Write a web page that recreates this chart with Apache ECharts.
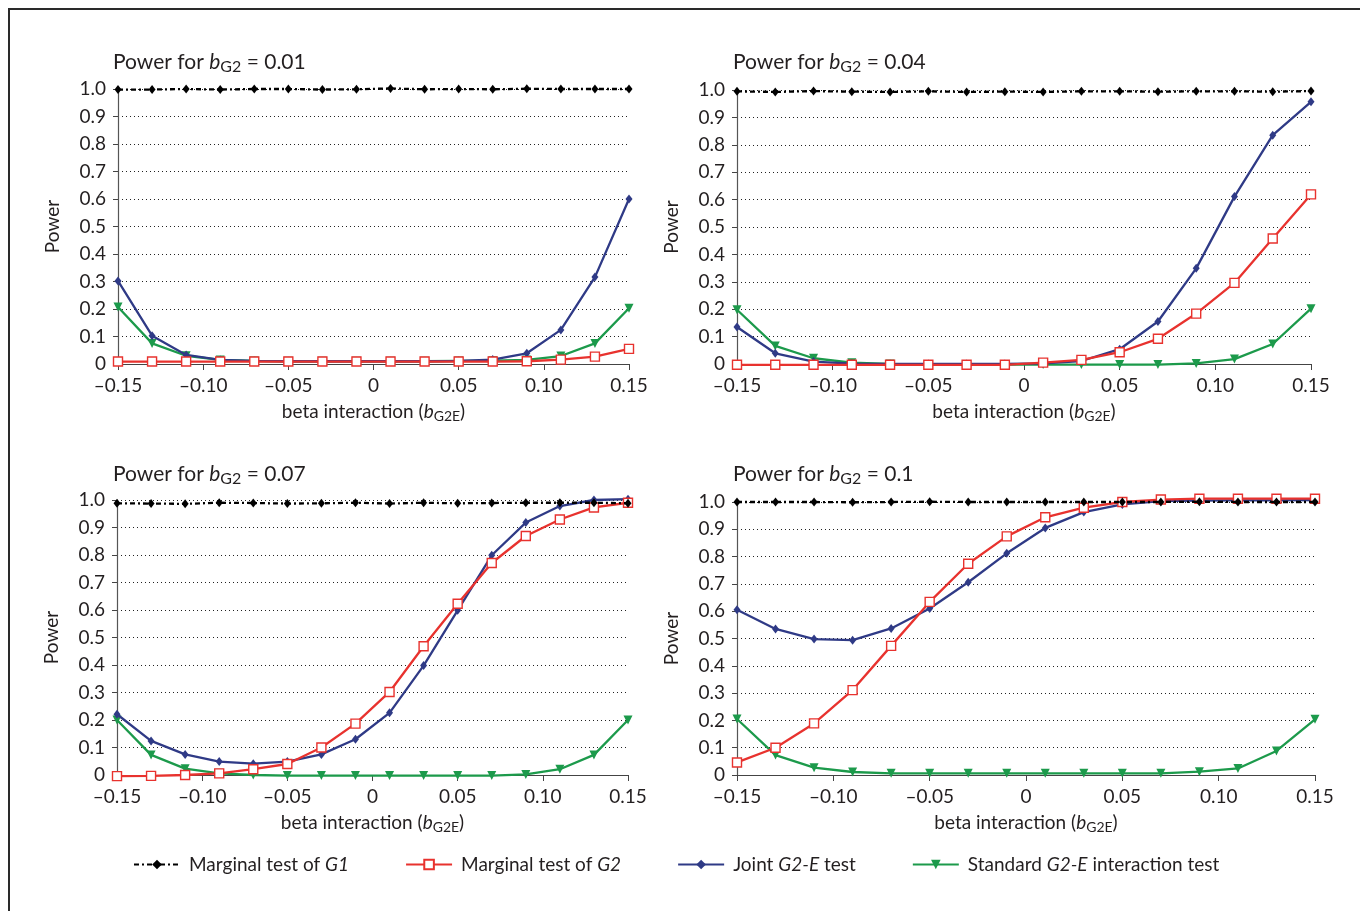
<!DOCTYPE html>
<html>
<head>
<meta charset="utf-8">
<script src="https://cdn.jsdelivr.net/npm/echarts@6/dist/echarts.min.js"></script>
<style>
html,body{margin:0;padding:0;background:#fff;}
#c{width:1360px;height:911px;}
</style>
</head>
<body>
<div id="c"></div>
<script>
// x values (beta interaction b_G2E)
const xs = [-0.15,-0.13,-0.11,-0.09,-0.07,-0.05,-0.03,-0.01,0.01,0.03,0.05,0.07,0.09,0.11,0.13,0.15];
const yTicks = [0,0.1,0.2,0.3,0.4,0.5,0.6,0.7,0.8,0.9,1.0];
const panelTitles = ['0.01','0.04','0.07','0.1'];
const seriesNames = ['Marginal test of G1','Marginal test of G2','Joint G2-E test','Standard G2-E interaction test'];

// Panel 1: b_G2 = 0.01
const g1_p1    = [0.998,0.998,1.0,0.998,1.0,1.0,0.998,0.999,1.002,0.999,1.0,0.999,1.001,1.0,1.0,1.0];
const g2_p1    = [0.009,0.009,0.009,0.009,0.009,0.009,0.009,0.009,0.009,0.009,0.009,0.009,0.010,0.016,0.027,0.055];
const joint_p1 = [0.302,0.103,0.033,0.015,0.011,0.010,0.010,0.010,0.010,0.010,0.011,0.016,0.039,0.124,0.316,0.600];
const std_p1   = [0.207,0.075,0.030,0.015,0.011,0.010,0.010,0.010,0.010,0.010,0.011,0.012,0.015,0.029,0.075,0.203];

// Panel 2: b_G2 = 0.04
const g1_p2    = [0.995,0.993,0.996,0.994,0.993,0.995,0.993,0.994,0.993,0.995,0.995,0.994,0.995,0.995,0.994,0.996];
const g2_p2    = [-0.003,-0.003,-0.003,-0.003,-0.003,-0.003,-0.003,-0.003,0.005,0.015,0.043,0.092,0.184,0.296,0.458,0.619];
const joint_p2 = [0.135,0.039,0.009,0.001,0.0,0.0,0.0,0.0,0.002,0.011,0.054,0.155,0.349,0.611,0.835,0.957];
const std_p2   = [0.198,0.066,0.021,0.005,0.0,-0.002,-0.002,-0.002,-0.002,-0.002,-0.002,-0.002,0.002,0.018,0.073,0.202];

// Panel 3: b_G2 = 0.07
const g1_p3    = [0.988,0.987,0.986,0.99,0.989,0.987,0.988,0.99,0.987,0.99,0.988,0.989,0.99,0.99,0.99,0.988];
const g2_p3    = [-0.004,-0.003,0.0,0.006,0.021,0.040,0.100,0.187,0.302,0.468,0.623,0.771,0.869,0.929,0.973,0.990];
const joint_p3 = [0.221,0.124,0.075,0.049,0.041,0.049,0.075,0.130,0.226,0.398,0.599,0.799,0.918,0.978,1.0,1.003];
const std_p3   = [0.200,0.073,0.023,0.006,0.0,-0.002,-0.002,-0.002,-0.002,-0.002,-0.002,-0.002,0.002,0.021,0.073,0.200];

// Panel 4: b_G2 = 0.1
const g1_p4    = [1.0,1.0,1.0,0.999,1.0,1.001,1.0,1.0,1.0,1.0,1.0,1.0,1.001,1.0,1.0,1.0];
const g2_p4    = [0.046,0.100,0.189,0.311,0.473,0.634,0.774,0.874,0.944,0.979,1.0,1.009,1.012,1.012,1.012,1.012];
const joint_p4 = [0.605,0.535,0.498,0.494,0.537,0.610,0.706,0.812,0.905,0.963,0.991,1.003,1.005,1.006,1.006,1.007];
const std_p4   = [0.205,0.073,0.027,0.011,0.006,0.006,0.006,0.006,0.006,0.006,0.006,0.006,0.012,0.024,0.088,0.204];

const panels = [
  {g1:g1_p1, g2:g2_p1, joint:joint_p1, std:std_p1},
  {g1:g1_p2, g2:g2_p2, joint:joint_p2, std:std_p2},
  {g1:g1_p3, g2:g2_p3, joint:joint_p3, std:std_p3},
  {g1:g1_p4, g2:g2_p4, joint:joint_p4, std:std_p4}
];

const FONT = 'Lato, "Noto Sans", sans-serif';
const TXT = '#231f20';
const RED = '#e8322e', BLUE = '#2f3a86', GREEN = '#1c9a4b';
const FS = 19;

const grids = [
  {left:118, top:89,  width:511, height:275},
  {left:737, top:90,  width:574, height:274},
  {left:117, top:500, width:511, height:275},
  {left:737, top:502, width:578, height:273}
];
const titlePos = [{left:108,top:45},{left:728,top:45},{left:108,top:457},{left:728,top:457}];

const richT = {
  i:{fontStyle:'italic', fontSize:21, fontFamily:FONT, color:TXT},
  s:{fontSize:16, fontFamily:FONT, color:TXT, padding:[9,0,0,0]}
};
const richA = {
  i:{fontStyle:'italic', fontSize:FS, fontFamily:FONT, color:TXT},
  s:{fontSize:14, fontFamily:FONT, color:TXT, padding:[8,0,0,0]}
};

function pair(arr){ return xs.map((x,i)=>[x,arr[i]]); }
function fmtX(v){ if (Math.abs(v)<1e-9) return '0'; return (v<0?'\u20130':'0') + Math.abs(v).toFixed(2).slice(1); }
function fmtY(v){ if (Math.abs(v)<1e-9) return '0'; return v.toFixed(1); }

const option = {
  animation:false,
  backgroundColor:'#fff',
  textStyle:{fontFamily:FONT, color:TXT},
  title: panelTitles.map((t,k)=>({
    text:'Power for {i|b}{s|G2} = '+t,
    left:titlePos[k].left, top:titlePos[k].top,
    textStyle:{fontSize:21, fontWeight:'normal', fontFamily:FONT, color:TXT, rich:richT}
  })),
  legend:{
    left:128, top:850,
    itemWidth:46, itemHeight:12, itemGap:56,
    data:seriesNames,
    formatter: function(n){
      if (n===seriesNames[0]) return 'Marginal test of {i|G1}';
      if (n===seriesNames[1]) return 'Marginal test of {i|G2}';
      if (n===seriesNames[2]) return 'Joint {i|G2-E} test';
      return 'Standard {i|G2-E} interaction test';
    },
    textStyle:{fontSize:FS, fontFamily:FONT, color:TXT, padding:[0,0,0,4],
      rich:{i:{fontStyle:'italic', fontSize:FS, fontFamily:FONT, color:TXT}}}
  },
  graphic:[{
    type:'polyline', silent:true,
    shape:{points:[[9,911],[9,9],[1360,9]]},
    style:{stroke:'#2a2a2a', lineWidth:2, fill:null}
  }],
  grid: grids.map(g=>Object.assign({containLabel:false}, g)),
  xAxis: grids.map((g,k)=>({
    type:'value', gridIndex:k, min:-0.15, max:0.15, interval:0.05,
    name:'beta interaction ({i|b}{s|G2E})', nameLocation:'middle', nameGap:37,
    nameTextStyle:{fontSize:FS, fontFamily:FONT, color:TXT, rich:richA},
    axisLine:{show:true, onZero:false, lineStyle:{color:'#444', width:1.2}},
    axisTick:{show:true, inside:false, length:6, lineStyle:{color:'#444'}},
    axisLabel:{fontSize:FS, color:TXT, fontFamily:FONT, margin:12, formatter:fmtX},
    splitLine:{show:false}
  })),
  yAxis: grids.map((g,k)=>({
    type:'value', gridIndex:k, min:0, max:1, interval:0.1,
    name:'Power', nameLocation:'middle', nameGap:56, nameRotate:90,
    nameTextStyle:{fontSize:FS, fontFamily:FONT, color:TXT},
    axisLine:{show:true, onZero:false, lineStyle:{color:'#555', width:1.2}},
    axisTick:{show:true, length:5, lineStyle:{color:'#444'}},
    axisLabel:{fontSize:FS, color:TXT, fontFamily:FONT, margin:12, formatter:fmtY},
    splitLine:{show:true, lineStyle:{color:'#222', width:1, type:[1,3]}}
  })),
  series: []
};

panels.forEach((p,k)=>{
  option.series.push({
    name:seriesNames[3], type:'line', xAxisIndex:k, yAxisIndex:k, data:pair(p.std), clip:false,
    symbol:'triangle', symbolRotate:180, symbolSize:9,
    itemStyle:{color:GREEN}, lineStyle:{color:GREEN, width:2.3}, z:2
  });
  option.series.push({
    name:seriesNames[2], type:'line', xAxisIndex:k, yAxisIndex:k, data:pair(p.joint), clip:false,
    symbol:'diamond', symbolSize:[7,9],
    itemStyle:{color:BLUE}, lineStyle:{color:BLUE, width:2.3}, z:3
  });
  option.series.push({
    name:seriesNames[1], type:'line', xAxisIndex:k, yAxisIndex:k, data:pair(p.g2), clip:false,
    symbol:'rect', symbolSize:9,
    itemStyle:{color:'#fff', borderColor:RED, borderWidth:1.4}, lineStyle:{color:RED, width:2.3}, z:4
  });
  option.series.push({
    name:seriesNames[0], type:'line', xAxisIndex:k, yAxisIndex:k, data:pair(p.g1), clip:false,
    symbol:'diamond', symbolSize:[7,9],
    itemStyle:{color:'#000'}, lineStyle:{color:'#000', width:2.3, type:[5,3,2,3]}, z:5
  });
});

const chart = echarts.init(document.getElementById('c'), null, {renderer:'canvas'});
chart.setOption(option);
</script>
</body>
</html>
